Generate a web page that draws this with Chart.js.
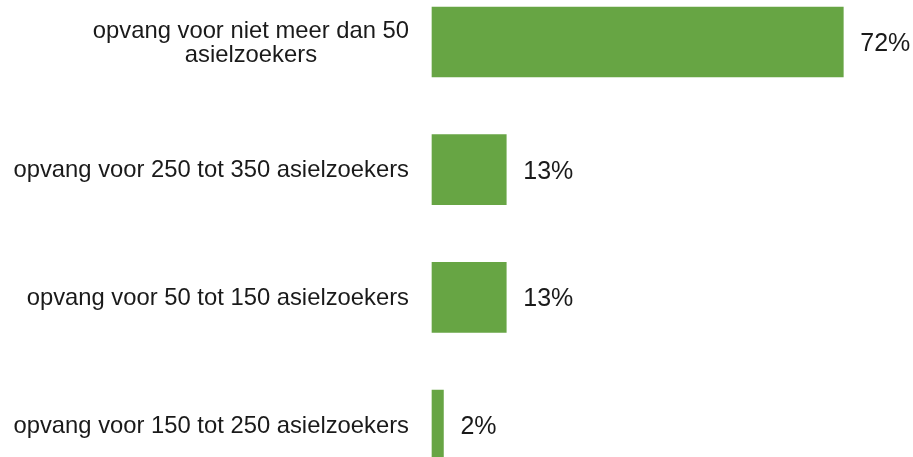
<!DOCTYPE html>
<html>
<head>
<meta charset="utf-8">
<script src="https://cdn.jsdelivr.net/npm/chart.js@4"></script>
<style>
  html, body { margin: 0; padding: 0; background: #fff; }
  #wrap { width: 913px; height: 457px; }
</style>
</head>
<body>
<div id="wrap"><canvas id="chart"></canvas></div>
<script>
// categories (top to bottom) and their shares in percent
const categories = [
    ['opvang voor niet meer dan 50', 'asielzoekers'],
    'opvang voor 250 tot 350 asielzoekers',
    'opvang voor 50 tot 150 asielzoekers',
    'opvang voor 150 tot 250 asielzoekers'
];
const shares = [72, 13, 13, 2];

// draws the category names left of the bars and the % labels right of them
const labelPlugin = {
    id: 'labels',
    afterDatasetsDraw(chart) {
        const ctx = chart.ctx;
        const yScale = chart.scales.y;
        const meta = chart.getDatasetMeta(0);
        ctx.save();
        ctx.fillStyle = '#1a1a1a';
        ctx.textBaseline = 'middle';

        // category names
        ctx.font = '23.8px "Liberation Sans", Arial, sans-serif';
        const right = 409;
        const lh = 24;
        categories.forEach((cat, i) => {
            const y = yScale.getPixelForValue(i) + 1;
            if (Array.isArray(cat)) {
                const w = Math.max(...cat.map(s => ctx.measureText(s).width));
                ctx.textAlign = 'center';
                cat.forEach((s, j) => {
                    ctx.fillText(s, right - w / 2, y + (j - (cat.length - 1) / 2) * lh);
                });
            } else {
                ctx.textAlign = 'right';
                ctx.fillText(cat, right, y);
            }
        });

        // value labels
        ctx.font = '25px "Liberation Sans", Arial, sans-serif';
        ctx.textAlign = 'left';
        meta.data.forEach((bar, i) => {
            ctx.fillText(shares[i] + '%', bar.x + 17, bar.y + 2);
        });
        ctx.restore();
    }
};

new Chart('chart', {
    type: 'bar',
    data: {
        labels: categories,
        datasets: [{
            data: shares,
            backgroundColor: '#67a544',
            borderWidth: 0,
            barThickness: 70,
            clip: false
        }]
    },
    options: {
        indexAxis: 'y',
        responsive: true,
        maintainAspectRatio: false,
        animation: false,
        layout: { padding: { left: 432, right: 0, top: 42, bottom: 32 } },
        plugins: { legend: { display: false }, tooltip: { enabled: false } },
        scales: {
            x: { display: false, min: 0, max: 84.2 },
            y: { display: false, offset: false, grid: { display: false } }
        }
    },
    plugins: [labelPlugin]
});
</script>
</body>
</html>
